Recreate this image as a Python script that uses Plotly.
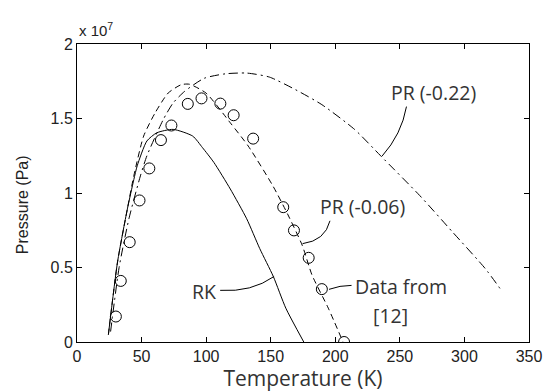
import plotly.graph_objects as go

# Temperature (K) and pressure (units of 1e7 Pa)
data_T = [30.1, 33.9, 40.8, 48.4, 56.0, 65.0, 73.1, 85.8, 96.4, 111.0, 121.3, 136.4, 159.7, 168.0, 179.4, 189.6, 206.8]
data_P = [0.171, 0.41, 0.67, 0.95, 1.165, 1.355, 1.453, 1.598, 1.635, 1.60, 1.522, 1.365, 0.905, 0.749, 0.565, 0.355, 0.0]

rk_T = [24.3, 31.4, 39, 44, 46.6, 54.1, 61.8, 74.4, 89.6, 97.2, 106, 118.7, 131.4, 141.5, 152, 161.7, 175.6]
rk_P = [0.049, 0.538, 0.893, 1.09, 1.182, 1.349, 1.404, 1.427, 1.382, 1.304, 1.205, 1.027, 0.827, 0.627, 0.44, 0.227, 0.0]

pr06_T = [24.3, 31.4, 39, 44, 51.6, 60.5, 70.6, 80.7, 87, 100, 118.7, 132.6, 151.6, 163, 174.4, 182, 194.6, 206]
pr06_P = [0.049, 0.538, 0.893, 1.115, 1.382, 1.538, 1.671, 1.727, 1.73, 1.67, 1.471, 1.315, 1.049, 0.86, 0.649, 0.449, 0.227, 0.0]

pr22_T = [26, 32.6, 40.2, 49.1, 54.1, 66.8, 74.4, 83.3, 98.5, 115, 131.4, 149, 169.3, 189.6, 214.9, 235.2, 265.5, 290.8, 316.1, 327.5]
pr22_P = [0.07, 0.50, 0.827, 1.115, 1.249, 1.493, 1.604, 1.682, 1.77, 1.80, 1.805, 1.778, 1.693, 1.593, 1.427, 1.249, 0.982, 0.738, 0.493, 0.36]

x_ticks = [0, 50, 100, 150, 200, 250, 300, 350]
y_ticks = [0, 0.5, 1, 1.5, 2]
y_ticktext = ["0", "0.5", "1", "1.5", "2"]

fig = go.Figure()
sm = 0.6
fig.add_trace(go.Scatter(x=rk_T, y=rk_P, mode="lines", line=dict(color="black", width=1, shape="spline", smoothing=sm), showlegend=False))
fig.add_trace(go.Scatter(x=pr06_T, y=pr06_P, mode="lines", line=dict(color="black", width=1, dash="6px,4px", shape="spline", smoothing=sm), showlegend=False))
fig.add_trace(go.Scatter(x=pr22_T, y=pr22_P, mode="lines", line=dict(color="black", width=1, dash="9px,4px,2px,4px", shape="spline", smoothing=sm), showlegend=False))
fig.add_trace(go.Scatter(x=data_T, y=data_P, mode="markers", marker=dict(symbol="circle-open", size=11, color="black", line=dict(width=1)), showlegend=False))

lab_font = dict(family="Open Sans", size=19.5, color="#333333")
anns = [
    dict(x=441, y=344 - 93, text="PR (-0.22)"),
    dict(x=368, y=344 - 208, text="PR (-0.06)"),
    dict(x=407, y=344 - 288, text="Data from"),
    dict(x=397, y=344 - 317, text="[12]"),
    dict(x=206, y=344 - 293, text="RK"),
]
px = lambda xp: (xp - 77) / 1.317
py = lambda yp: yp / 150.0
annotations = []
for a in anns:
    annotations.append(dict(x=px(a["x"]), y=py(a["y"]), xref="x", yref="y", text=a["text"], showarrow=False, font=lab_font, xanchor="center", yanchor="middle"))
annotations.append(dict(x=0, y=1, xref="paper", yref="paper", xanchor="left", yanchor="bottom", yshift=3, text="x 10<sup>7</sup>", showarrow=False, font=dict(family="Liberation Sans", size=15, color="#222")))
annotations.append(dict(x=-0.119, y=0.46, xref="paper", yref="paper", xanchor="center", yanchor="middle", textangle=-90, text="Pressure (Pa)", showarrow=False, font=dict(family="Liberation Sans", size=16, color="#222")))

def P(xp, yp):
    return px(xp), py(344 - yp)

def path(points):
    (x0, y0), (cx, cy), (x1, y1) = [P(*p) for p in points]
    return f"M {x0},{y0} Q {cx},{cy} {x1},{y1}"

shapes = [
    dict(type="path", xref="x", yref="y", path=path([(413, 107), (408, 135), (388, 157)]), line=dict(color="black", width=1)),
    dict(type="path", xref="x", yref="y", path=path([(335, 222), (330, 242), (307, 245)]), line=dict(color="black", width=1)),
    dict(type="path", xref="x", yref="y", path=path([(357, 287), (345, 287), (334, 291)]), line=dict(color="black", width=1)),
    dict(type="path", xref="x", yref="y", path=path([(223, 292), (255, 294), (278, 278)]), line=dict(color="black", width=1)),
]

fig.update_layout(
    width=554, height=392, margin=dict(l=77, r=16, t=44, b=48),
    paper_bgcolor="white", plot_bgcolor="white",
    annotations=annotations, shapes=shapes,
    xaxis=dict(range=[0, 350], tickvals=x_ticks, ticks="inside", ticklen=5, showline=True, mirror="ticks",
               linecolor="black", linewidth=1, tickcolor="black", showgrid=False, zeroline=False,
               tickfont=dict(family="Liberation Sans", size=16, color="#222"),
               title=dict(text="Temperature (K)", font=dict(family="Open Sans", size=21, color="#333"), standoff=0)),
    yaxis=dict(range=[0, 2], tickvals=y_ticks, ticktext=y_ticktext, ticks="inside", ticklen=5, showline=True, mirror="ticks",
               linecolor="black", linewidth=1, tickcolor="black", showgrid=False, zeroline=False,
               tickfont=dict(family="Liberation Sans", size=16, color="#222")),
)
fig.write_html("out.html")
